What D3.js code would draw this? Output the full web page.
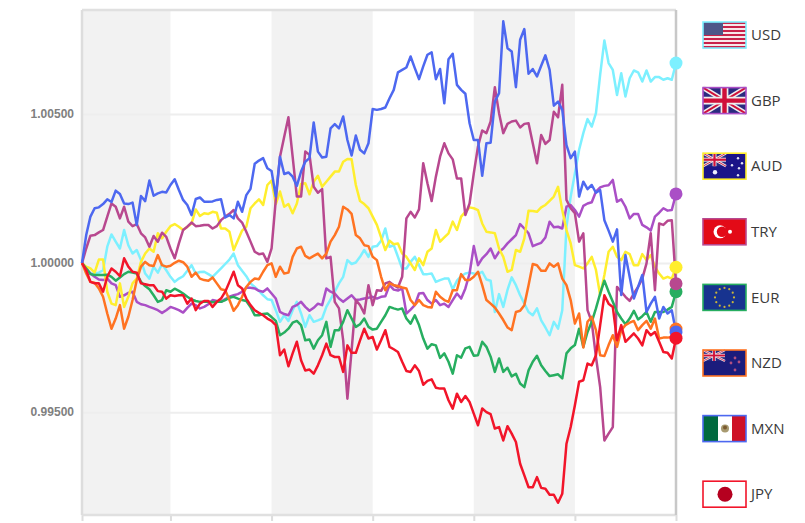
<!DOCTYPE html>
<html>
<head>
<meta charset="utf-8">
<script src="https://cdnjs.cloudflare.com/ajax/libs/d3/7.8.5/d3.min.js"></script>
<style>
body { margin: 0; background: #fff; }
svg { display: block; }
</style>
</head>
<body>
<div id="chart"></div>
<script>
// currencies, same order as the legend
var currencies = ["USD", "GBP", "AUD", "TRY", "EUR", "NZD", "MXN", "JPY"]
var colors = ["#7df0ff", "#aa4fc6", "#ffee2e", "#b8488f", "#27ae60", "#ff7322", "#4d68f0", "#f2152a"]

// y tick labels and the x boundaries (step number of each vertical tick)
var yTicks = [0.995, 1, 1.005]
var xTicks = [0, 21, 45, 69, 93, 117, 141]

// all series, in 1/100000 away from 1.00000, one value per step
var usdPips = [0,-18,-35,-35,-32,-24,55,96,72,49,111,60,32,44,10,-35,-52,-12,-32,-3,-24,-46,-63,-52,-44,-26,-7,-35,-30,-29,-37,-46,-32,-18,-3,12,32,-7,-26,-44,-68,-80,-93,-108,-121,-124,-158,-197,-175,-194,-158,-130,-169,-214,-175,-197,-192,-186,-147,-122,-96,-68,-46,10,-3,2,21,44,21,55,57,75,116,55,60,21,-18,-18,4,21,-7,-37,-37,-35,-63,-57,-52,-52,-88,-59,-44,-35,-32,-35,-37,-29,-55,-59,-164,-104,-147,-90,-48,-74,-108,-136,-164,-175,-152,-192,-216,-242,-197,-220,-158,122,223,301,380,436,483,458,503,632,747,671,648,564,637,559,620,646,640,609,646,609,624,624,615,620,615,671]
var gbpPips = [0,-18,-35,-46,-55,-57,-52,-68,-74,-113,-108,-100,-96,-130,-138,-141,-147,-152,-158,-167,-158,-147,-152,-158,-166,-150,-136,-141,-152,-147,-138,-124,-127,-130,-121,-113,-108,-104,-96,-82,-83,-85,-93,-96,-85,-102,-119,-164,-171,-175,-147,-141,-130,-147,-160,-150,-136,-141,-85,-96,-102,-119,-130,-119,-108,-124,-122,-119,-116,-113,-119,-113,-111,-74,-89,-92,-85,-169,-156,-141,-102,-100,-124,-136,-124,-141,-136,-147,-124,-102,-119,-85,-35,57,-7,16,30,49,16,38,49,66,80,94,131,116,100,57,63,68,86,139,120,122,116,189,195,178,156,192,200,204,240,254,259,261,279,206,214,189,150,165,165,128,120,109,156,169,184,176,178,232]
var audPips = [0,-12,-18,-32,12,12,-96,-136,-141,-68,-147,-113,-68,-52,4,32,49,38,100,83,105,124,131,122,111,122,133,180,158,167,165,172,169,116,116,105,44,77,109,122,184,200,214,195,262,277,198,240,189,198,167,200,265,268,231,273,293,256,273,290,307,307,340,349,348,262,208,198,184,156,128,86,44,75,63,66,32,21,-1,-23,16,-7,38,49,111,72,86,100,139,111,156,172,187,184,178,133,105,103,100,49,21,-29,-23,44,38,83,176,175,172,187,195,209,223,256,178,111,66,-7,-12,-18,-1,21,-23,-108,-40,38,55,21,10,38,30,-7,-7,30,10,27,-12,-35,-52,-46,-52,-14]
var tryPips = [0,49,92,94,103,111,156,200,189,150,189,139,124,131,100,86,55,91,72,102,88,49,16,66,111,122,136,124,125,128,128,116,124,144,156,165,178,150,136,105,72,38,30,32,4,49,212,357,424,489,357,223,223,374,363,256,236,248,16,21,-130,-152,-259,-455,-292,-124,-141,-169,-74,-141,-91,-93,-68,-63,-74,-82,-46,150,172,153,180,335,268,208,290,357,402,368,348,284,284,161,200,301,391,445,436,475,590,503,436,467,475,478,455,467,469,402,335,430,400,413,508,489,598,212,184,167,72,100,-158,-197,-315,-416,-595,-572,-550,-80,-96,-113,-127,-102,-80,-52,-1,100,-91,133,128,142,144,-69]
var eurPips = [0,-18,-37,-40,-40,-40,-39,-46,-59,-48,-37,-29,-32,-35,-63,-77,-88,-108,-130,-124,-91,-96,-86,-93,-102,-113,-122,-127,-130,-130,-130,-131,-130,-130,-124,-116,-113,-119,-124,-127,-147,-175,-175,-171,-169,-181,-194,-242,-233,-220,-200,-194,-208,-259,-256,-287,-259,-242,-197,-281,-225,-225,-197,-158,-186,-214,-205,-186,-214,-223,-220,-197,-175,-147,-152,-156,-152,-186,-203,-175,-208,-253,-287,-272,-276,-318,-303,-331,-371,-309,-317,-286,-281,-311,-309,-264,-281,-314,-365,-320,-365,-351,-380,-371,-404,-416,-360,-331,-311,-343,-362,-379,-376,-373,-387,-303,-286,-275,-220,-281,-231,-197,-152,-102,-59,-96,-130,-164,-186,-205,-186,-160,-189,-178,-164,-197,-164,-164,-164,-156,-147,-96]
var nzdPips = [0,-35,-63,-66,-85,-113,-169,-220,-186,-141,-220,-180,-124,-57,-12,4,-7,-10,27,-7,-12,-9,1,8,3,-12,-46,-32,-52,-57,-59,-48,-68,-88,-91,-124,-160,-141,-113,-80,-63,-52,-54,-29,-7,-1,-46,-12,-35,-32,21,49,55,24,16,24,32,16,32,72,94,122,189,180,165,94,83,60,57,21,10,-46,-91,-68,-74,-77,-82,-85,-124,-141,-124,-141,-147,-149,-96,-113,-124,-130,-91,-91,-37,-57,-57,-46,-29,-74,-124,-136,-149,-169,-191,-216,-225,-164,-160,-141,-74,-3,-7,-26,-26,-1,-12,-1,-52,-74,-124,-203,-169,-283,-197,-180,-225,-309,-312,-275,-242,-281,-225,-208,-200,-194,-225,-208,-194,-220,-186,-253,-250,-250,-248,-221]
var mxnPips = [0,94,156,184,187,198,214,205,243,232,200,198,203,128,225,208,277,226,234,239,237,262,281,245,212,195,161,215,220,206,206,207,212,214,153,161,150,206,172,228,249,333,344,352,318,309,223,357,299,304,290,259,307,340,352,472,374,354,357,452,466,452,492,413,361,428,380,368,402,517,514,517,522,553,581,640,648,656,693,654,617,660,699,707,617,651,536,684,702,598,581,568,469,413,413,293,402,404,542,570,811,721,710,590,749,785,635,651,626,662,697,648,528,542,514,396,352,374,223,273,248,262,236,245,144,109,72,113,-107,27,-46,-119,-80,-40,-164,-136,-113,-186,-147,-169,-158,-231]
var jpyPips = [0,-24,-63,-68,-68,-96,-46,-18,-29,-44,16,-12,-29,-32,-68,-71,-74,-74,-94,-96,-119,-108,-110,-108,-108,-136,-119,-158,-136,-127,-127,-147,-130,-119,-96,-63,-29,-74,-85,-119,-141,-158,-167,-175,-186,-194,-208,-309,-290,-346,-303,-264,-326,-360,-357,-371,-343,-309,-270,-309,-315,-315,-365,-276,-301,-301,-259,-220,-253,-248,-290,-259,-225,-281,-289,-298,-331,-362,-365,-343,-362,-408,-395,-390,-418,-421,-421,-460,-488,-438,-466,-446,-466,-505,-544,-488,-500,-507,-555,-550,-595,-547,-572,-600,-673,-712,-752,-752,-718,-754,-757,-777,-777,-804,-774,-606,-550,-477,-398,-393,-337,-343,-309,-208,-108,-136,-147,-259,-208,-264,-250,-236,-253,-276,-225,-242,-231,-264,-298,-301,-320,-252]

var allPips = [usdPips, gbpPips, audPips, tryPips, eurPips, nzdPips, mxnPips, jpyPips]

var width = 805, height = 523

var svg = d3.select("#chart").append("svg")
  .attr("width", width)
  .attr("height", height)

var x = d3.scaleLinear().domain([0, 141]).range([82, 676])
var y = d3.scaleLinear().domain([0.99155, 1.00849]).range([515, 10])

// grey bands, every other day
var bands = d3.pairs(xTicks).filter(function(d, i) { return i % 2 == 0 })
svg.selectAll("rect.band")
  .data(bands)
  .enter().append("rect")
  .attr("class", "band")
  .attr("x", function(d) { return x(d[0]) })
  .attr("width", function(d) { return x(d[1]) - x(d[0]) })
  .attr("y", y.range()[1])
  .attr("height", y.range()[0] - y.range()[1])
  .style("fill", "#f2f2f2")

// y axis with the long grid lines
var yAxis = svg.append("g")
  .attr("transform", "translate(" + x.range()[0] + ",0)")
  .call(d3.axisLeft(y)
    .tickValues(yTicks)
    .tickFormat(d3.format(".5f"))
    .tickSize(-(x.range()[1] - x.range()[0]))
    .tickPadding(8))
yAxis.select(".domain").remove()
yAxis.selectAll("line").style("stroke", "#eeeeee").style("stroke-width", 2)
yAxis.selectAll("text")
  .style("font-family", "'Liberation Sans', Arial, sans-serif")
  .style("font-size", "12px")
  .style("font-weight", "bold")
  .style("fill", "#808080")

// x axis, no labels only the small ticks
var xAxis = svg.append("g")
  .attr("transform", "translate(0," + y.range()[0] + ")")
  .call(d3.axisBottom(x).tickValues(xTicks).tickFormat("").tickSize(6))
xAxis.select(".domain").remove()
xAxis.selectAll("line").style("stroke", "#dddddd").style("stroke-width", 2)

// frame of the plot
var frame = [
  [x.range()[0], y.range()[1], x.range()[1], y.range()[1], "#e0e0e0"],
  [x.range()[0], y.range()[0], x.range()[1], y.range()[0], "#e0e0e0"],
  [x.range()[0], y.range()[1], x.range()[0], y.range()[0], "#dddddd"],
  [x.range()[1], y.range()[1], x.range()[1], y.range()[0], "#c8c8c8"]
]
svg.selectAll("line.frame")
  .data(frame)
  .enter().append("line")
  .attr("class", "frame")
  .attr("x1", function(d) { return d[0] })
  .attr("y1", function(d) { return d[1] })
  .attr("x2", function(d) { return d[2] })
  .attr("y2", function(d) { return d[3] })
  .style("stroke", function(d) { return d[4] })
  .style("stroke-width", 2.5)

function price(p) { return 1 + p / 100000 }

var line = d3.line()
  .x(function(d, i) { return x(i) })
  .y(function(d) { return y(price(d)) })

// one line per currency
svg.selectAll("path.series")
  .data(allPips)
  .enter().append("path")
  .attr("class", "series")
  .attr("d", line)
  .style("fill", "none")
  .style("stroke", function(d, i) { return colors[i] })
  .style("stroke-width", 2.5)
  .style("stroke-linejoin", "round")

// dot at the end of each line, TRY sits on top of EUR
var dotOrder = [0, 1, 2, 4, 3, 5, 6, 7]
svg.selectAll("circle.end")
  .data(dotOrder)
  .enter().append("circle")
  .attr("class", "end")
  .attr("cx", x(141))
  .attr("cy", function(d) { return y(price(allPips[d][141])) })
  .attr("r", 6.5)
  .style("fill", function(d) { return colors[d] })

// flag helpers
var flagW = 43, flagH = 26

function box(g, bx, by, w, h, c) {
  g.append("rect").attr("x", bx).attr("y", by).attr("width", w).attr("height", h).style("fill", c)
}
function dot(g, cx, cy, r, c) {
  g.append("circle").attr("cx", cx).attr("cy", cy).attr("r", r).style("fill", c)
}
function seg(g, x1, y1, x2, y2, w, c) {
  g.append("line").attr("x1", x1).attr("y1", y1).attr("x2", x2).attr("y2", y2)
    .style("stroke", c).style("stroke-width", w)
}
function union(g, w, h) {
  box(g, 0, 0, w, h, "#2a2a80")
  seg(g, 0, 0, w, h, h * 0.2, "#eee")
  seg(g, w, 0, 0, h, h * 0.2, "#eee")
  seg(g, 0, 0, w, h, h * 0.07, "#d0103a")
  seg(g, w, 0, 0, h, h * 0.07, "#d0103a")
  seg(g, w / 2, 0, w / 2, h, h * 0.3, "#eee")
  seg(g, 0, h / 2, w, h / 2, h * 0.3, "#eee")
  seg(g, w / 2, 0, w / 2, h, h * 0.17, "#d0103a")
  seg(g, 0, h / 2, w, h / 2, h * 0.17, "#d0103a")
}

var drawFlag = {
  USD: function(g) {
    d3.range(13).forEach(function(i) {
      box(g, 0, i * flagH / 13, flagW, flagH / 13 + 0.2, i % 2 ? "#f6e8ea" : "#c8224a")
    })
    box(g, 0, 0, 20, 13, "#4d5688")
  },
  GBP: function(g) { union(g, flagW, flagH) },
  AUD: function(g) {
    box(g, 0, 0, flagW, flagH, "#1b1488")
    union(g, 23, 13)
    dot(g, 12, 19, 2.2, "#eef")
    ;[[35, 5], [29, 12], [39, 10], [35, 22], [36, 15]].forEach(function(s) { dot(g, s[0], s[1], 1.2, "#e4e4f4") })
  },
  TRY: function(g) {
    box(g, 0, 0, flagW, flagH, "#e30a17")
    dot(g, 17, 13, 6.5, "#fff")
    dot(g, 19, 13, 5.2, "#e30a17")
    dot(g, 27, 13, 2, "#fff")
  },
  EUR: function(g) {
    box(g, 0, 0, flagW, flagH, "#17338f")
    d3.range(12).forEach(function(i) {
      var a = i * Math.PI / 6
      dot(g, 21.5 + 9.5 * Math.sin(a), 13 - 9.5 * Math.cos(a), 1.1, "#c9b53a")
    })
  },
  NZD: function(g) {
    box(g, 0, 0, flagW, flagH, "#1b1c7c")
    union(g, 22, 11)
    ;[[32, 8], [36, 12], [32, 20], [28, 13]].forEach(function(s) { dot(g, s[0], s[1], 1.4, "#b25080") })
  },
  MXN: function(g) {
    box(g, 0, 0, 15, flagH, "#00693f")
    box(g, 15, 0, 14, flagH, "#ffffff")
    box(g, 29, 0, 14, flagH, "#ce1126")
    dot(g, 22, 13, 4, "#a89a70")
    dot(g, 22, 12, 2, "#7a5a30")
  },
  JPY: function(g) {
    box(g, 0, 0, flagW, flagH, "#ffffff")
    dot(g, 22, 13, 7.5, "#b5001f")
  }
}

// legend, flag and code
var legend = svg.selectAll("g.legend")
  .data(currencies)
  .enter().append("g")
  .attr("class", "legend")
  .attr("transform", function(d, i) { return "translate(703," + (22 + i * 65.6) + ")" })

legend.each(function(d) { drawFlag[d](d3.select(this)) })

legend.append("rect")
  .attr("width", flagW)
  .attr("height", flagH)
  .style("fill", "none")
  .style("stroke", function(d, i) { return colors[i] })
  .style("stroke-width", 1.6)

legend.append("text")
  .attr("x", 48)
  .attr("y", flagH / 2)
  .attr("dy", "0.35em")
  .style("font-family", "'Open Sans', sans-serif")
  .style("font-size", "15px")
  .style("fill", "#3a3a3a")
  .text(function(d) { return d })
</script>
</body>
</html>
